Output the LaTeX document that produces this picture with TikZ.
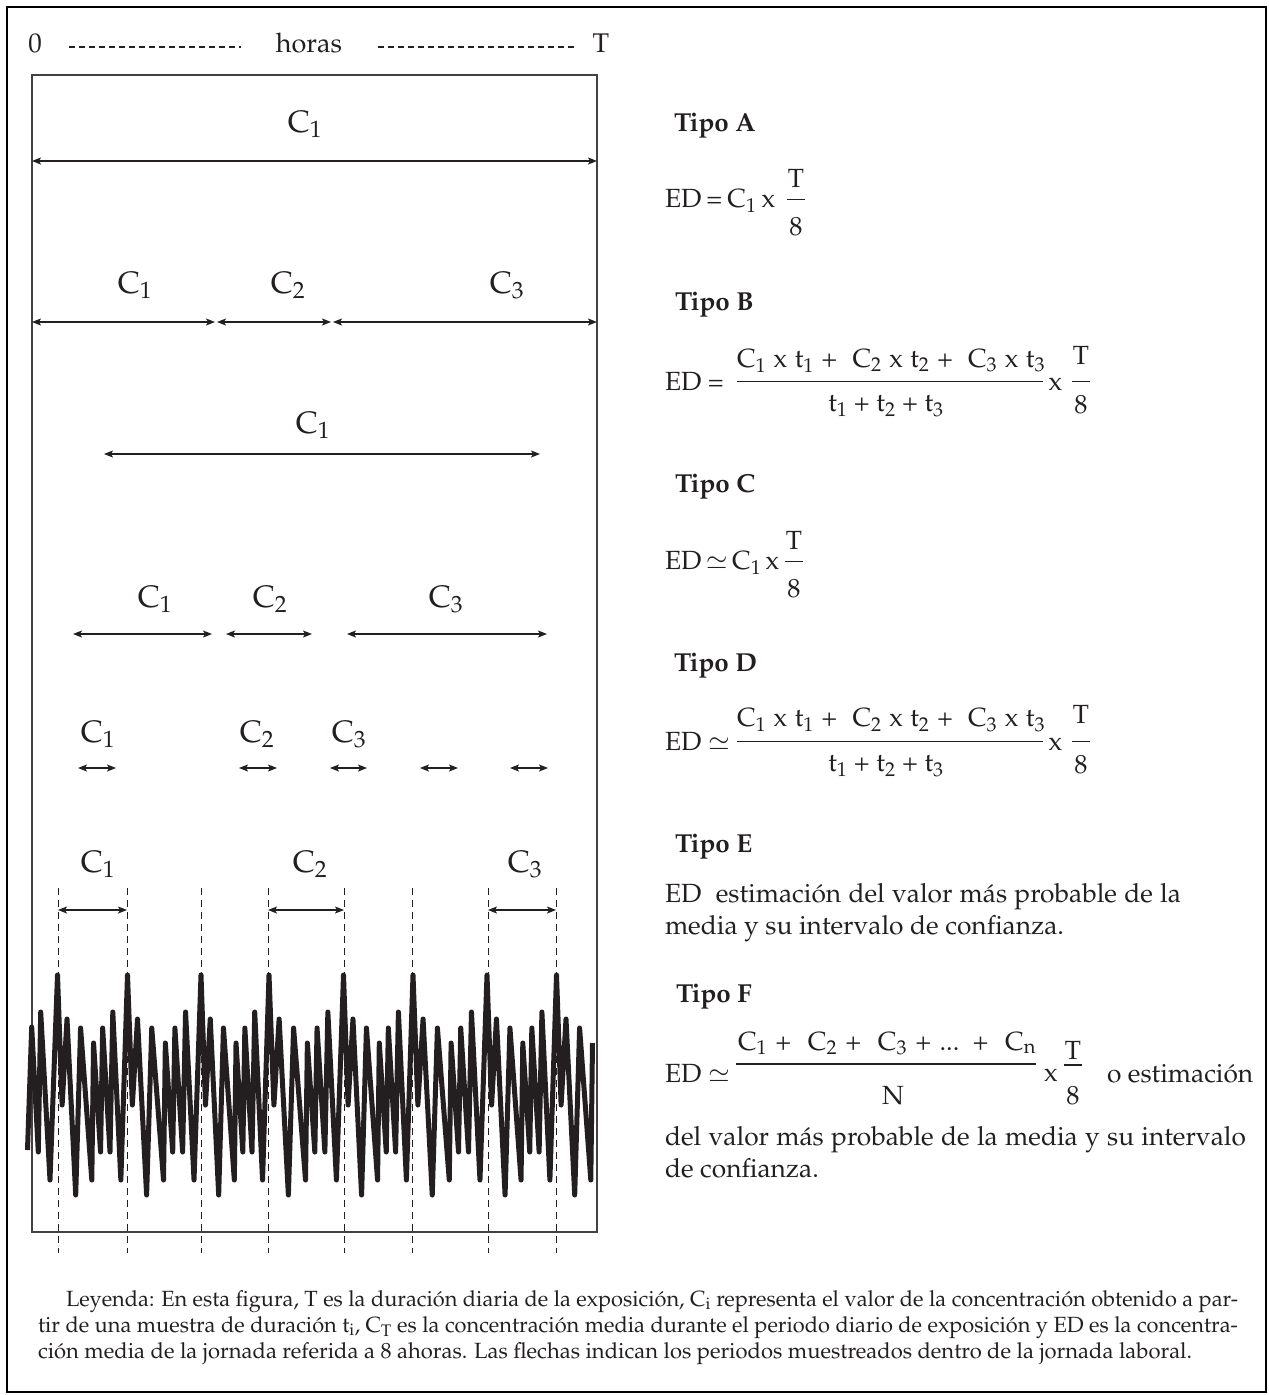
\documentclass[tikz,border=0pt]{standalone}
\usepackage[T1]{fontenc}
\usepackage{mathpazo}
\usetikzlibrary{arrows.meta}
\definecolor{ink}{HTML}{231F20}
\begin{document}
\begin{tikzpicture}[x=1pt,y=-1pt,
  every node/.style={inner sep=0pt, outer sep=0pt, text=ink},
  hdr/.style={font=\fontsize{27}{30}\selectfont, anchor=base},
  clab/.style={font=\fontsize{31}{34}\selectfont, anchor=base},
  head/.style={font=\fontsize{26}{30}\selectfont\bfseries, anchor=base west},
  ftxt/.style={font=\fontsize{26.3}{30}\selectfont, anchor=base west},
  fmid/.style={font=\fontsize{26.3}{30}\selectfont, anchor=base},
  leg/.style={font=\fontsize{22}{26}\selectfont, anchor=base west},
  span/.style={draw=ink, line width=1.2pt, {Stealth[length=9pt,width=7pt,inset=2pt]}-{Stealth[length=9pt,width=7pt,inset=2pt]}},
  guide/.style={draw=ink, line width=1pt, dash pattern=on 7pt off 5pt},
  hdash/.style={draw=ink, line width=1.2pt, dash pattern=on 6pt off 4pt},
  fbar/.style={draw=ink, line width=1.2pt},
  wave/.style={draw=ink, line width=5pt, line join=round},
  box/.style={draw=ink!85, line width=1.3pt},
]
\fill[white] (0,0) rectangle (1269,1395);
\useasboundingbox (0,0) rectangle (1269,1395);
\draw[black, line width=2.5pt] (7,7) rectangle (1266,1392);

% header
\node[hdr] (zero) at (35,52) {0};
\node[hdr] (horas) at (309,52) {horas};
\node[hdr] (tend) at (601,52) {T};
\coordinate (hd1a) at (69,47); \coordinate (hd1b) at (241,47);
\coordinate (hd2a) at (378,47); \coordinate (hd2b) at (574,47);
\draw[hdash] (hd1a) -- (hd1b);
\draw[hdash] (hd2a) -- (hd2b);

% inner box
\draw[box] (32,75) rectangle (597,1232);

% row 1
\node[clab] (r1c1) at (305,132) {C$_1$};
\coordinate (r1a) at (32,161); \coordinate (r1b) at (597,161);
\draw[span] (r1a) -- (r1b);

% row 2
\node[clab] (r2c1) at (135,293) {C$_1$};
\node[clab] (r2c2) at (288,293) {C$_2$};
\node[clab] (r2c3) at (507,293) {C$_3$};
\coordinate (r2a) at (32,322); \coordinate (r2b) at (215,322);
\coordinate (r2c) at (217,322); \coordinate (r2d) at (331,322);
\coordinate (r2e) at (333,322); \coordinate (r2f) at (597,322);
\draw[span] (r2a) -- (r2b);
\draw[span] (r2c) -- (r2d);
\draw[span] (r2e) -- (r2f);

% row 3
\node[clab] (r3c1) at (313,433) {C$_1$};
\coordinate (r3a) at (104,454); \coordinate (r3b) at (540,454);
\draw[span] (r3a) -- (r3b);

% row 4
\node[clab] (r4c1) at (155,607) {C$_1$};
\node[clab] (r4c2) at (270,607) {C$_2$};
\node[clab] (r4c3) at (446,607) {C$_3$};
\coordinate (r4a) at (73,634); \coordinate (r4b) at (212,634);
\coordinate (r4c) at (226,634); \coordinate (r4d) at (312,634);
\coordinate (r4e) at (347,634); \coordinate (r4f) at (547,634);
\draw[span] (r4a) -- (r4b);
\draw[span] (r4c) -- (r4d);
\draw[span] (r4e) -- (r4f);

% row 5
\node[clab] (r5c1) at (98,742) {C$_1$};
\node[clab] (r5c2) at (257,742) {C$_2$};
\node[clab] (r5c3) at (349,742) {C$_3$};
\foreach \i/\l/\r in {1/78/116, 2/239/277, 3/330/367, 4/420/458, 5/510/548} {
  \coordinate (r5a\i) at (\l,768); \coordinate (r5b\i) at (\r,768);
  \draw[span] (r5a\i) -- (r5b\i);
}

% row 6 guides
\foreach \i/\x in {1/58, 2/127, 3/201, 4/268, 5/344, 6/412, 7/488, 8/556} {
  \coordinate (gt\i) at (\x,888); \coordinate (gb\i) at (\x,1253);
  \draw[guide] (gt\i) -- (gb\i);
}
\node[clab] (r6c1) at (98,872) {C$_1$};
\node[clab] (r6c2) at (310,872) {C$_2$};
\node[clab] (r6c3) at (525,872) {C$_3$};
\coordinate (r6a) at (58,910); \coordinate (r6b) at (127,910);
\coordinate (r6c) at (268,910); \coordinate (r6d) at (344,910);
\coordinate (r6e) at (488,910); \coordinate (r6f) at (556,910);
\draw[span] (r6a) -- (r6b);
\draw[span] (r6c) -- (r6d);
\draw[span] (r6e) -- (r6f);

% waveform
\draw[wave] (27.5,1150) -- (31.7,1027) -- (38.3,1152) -- (40.7,1012) -- (50,1180)
  \foreach \a/\p in {57.5/70, 127.5/73.5, 201/68, 269/74.5, 343.5/69.5, 413/74, 487/69.5} {
    -- (\a,975) -- ({\a+.066*\p},1105) -- ({\a+.136*\p},1019) -- ({\a+.26*\p},1195)
    -- ({\a+.33*\p},1028) -- ({\a+.49*\p},1180) -- ({\a+.515*\p},1043)
    -- ({\a+.615*\p},1152) -- ({\a+.645*\p},1028) -- ({\a+.75*\p},1152)
    -- ({\a+.79*\p},1012) -- ({\a+.905*\p},1180)
  }
  -- (556.5,975) -- (561.1,1105) -- (566,1019) -- (574.7,1195) -- (579.6,1028) -- (590.8,1180) -- (592.5,1043);

% Tipo A
\node[head] (tA) at (674,131.7) {Tipo A};
\node[ftxt] (edA) at (665,207.3) {ED\hspace{5pt}=\hspace{5pt}C$_1$\hspace{5pt}x};
\node[fmid] (nA) at (796,187.3) {T};
\node[fmid] (dA) at (796,235) {8};
\coordinate (bA1) at (787,199.5); \coordinate (bA2) at (805,199.5);
\draw[fbar] (bA1) -- (bA2);

% Tipo B
\node[head] (tB) at (675,310.7) {Tipo B};
\node[ftxt] (edB) at (665,390) {ED =};
\node[ftxt] (nB) at (737,367.3) {\makebox[308pt][s]{C$_1$ x t$_1$ + \ C$_2$ x t$_2$ + \ C$_3$ x t$_3$}};
\node[fmid] (dB) at (886,411.7) {t$_1$ + t$_2$ + t$_3$};
\coordinate (bB1) at (737,381.7); \coordinate (bB2) at (1043,381.7);
\draw[fbar] (bB1) -- (bB2);
\node[fmid] (xB) at (1055.5,390) {x};
\node[fmid] (nB2) at (1081,364) {T};
\node[fmid] (dB2) at (1081,413.3) {8};
\coordinate (bB3) at (1072,381.7); \coordinate (bB4) at (1090,381.7);
\draw[fbar] (bB3) -- (bB4);

% Tipo C
\node[head] (tC) at (675,492.7) {Tipo C};
\node[ftxt] (edC) at (665,569.5) {ED\,$\simeq$\,C$_1$\,x};
\node[fmid] (nC) at (794,549.5) {T};
\node[fmid] (dC) at (794,597) {8};
\coordinate (bC1) at (785,561.5); \coordinate (bC2) at (803,561.5);
\draw[fbar] (bC1) -- (bC2);

% Tipo D
\node[head] (tD) at (674,671.7) {Tipo D};
\node[ftxt] (edD) at (665,750) {ED $\simeq$};
\node[ftxt] (nD) at (737,726.7) {\makebox[308pt][s]{C$_1$ x t$_1$ + \ C$_2$ x t$_2$ + \ C$_3$ x t$_3$}};
\node[fmid] (dD) at (886,771.7) {t$_1$ + t$_2$ + t$_3$};
\coordinate (bD1) at (737,741.7); \coordinate (bD2) at (1043,741.7);
\draw[fbar] (bD1) -- (bD2);
\node[fmid] (xD) at (1055.5,750) {x};
\node[fmid] (nD2) at (1081,723.3) {T};
\node[fmid] (dD2) at (1081,773.3) {8};
\coordinate (bD3) at (1072,741.7); \coordinate (bD4) at (1090,741.7);
\draw[fbar] (bD3) -- (bD4);

% Tipo E
\node[head] (tE) at (675,852.7) {Tipo E};
\node[ftxt] (eE1) at (665,902) {\makebox[516pt][s]{ED \ estimaci\'on del valor m\'as probable de la}};
\node[ftxt] (eE2) at (665,934) {media y su intervalo de confianza.};

% Tipo F
\node[head] (tF) at (676,1002.7) {Tipo F};
\node[ftxt] (edF) at (665,1082) {ED $\simeq$};
\node[ftxt] (nF) at (738,1050) {\makebox[298pt][s]{C$_1$ + \ C$_2$ + \ C$_3$ + ... + \ C$_\mathrm{n}$}};
\node[fmid] (dF) at (893,1104) {N};
\coordinate (bF1) at (736,1064); \coordinate (bF2) at (1036,1064);
\draw[fbar] (bF1) -- (bF2);
\node[fmid] (xF) at (1051,1081) {x};
\node[fmid] (nF2) at (1073,1059) {T};
\node[fmid] (dF2) at (1073,1104) {8};
\coordinate (bF3) at (1064,1065); \coordinate (bF4) at (1082,1065);
\draw[fbar] (bF3) -- (bF4);
\node[ftxt] (oF) at (1107,1082) {o estimaci\'on};
\node[ftxt] (eF1) at (665,1145) {\makebox[581pt][s]{del valor m\'as probable de la media y su intervalo}};
\node[ftxt] (eF2) at (665,1177) {de confianza.};

% legend
\node[leg] (lg1) at (66,1306) {\resizebox{1172pt}{\height}{Leyenda: En esta figura, T es la duraci\'on diaria de la exposici\'on, C$_\mathrm{i}$ representa el valor de la concentraci\'on obtenido a par-}};
\node[leg] (lg2) at (38,1332) {\resizebox{1200pt}{\height}{tir de una muestra de duraci\'on t$_\mathrm{i}$, C$_\mathrm{T}$ es la concentraci\'on media durante el periodo diario de exposici\'on y ED es la concentra-}};
\node[leg] (lg3) at (38,1358) {\resizebox{1154pt}{\height}{ci\'on media de la jornada referida a 8 ahoras. Las flechas indican los periodos muestreados dentro de la jornada laboral.}};
\end{tikzpicture}
\end{document}
